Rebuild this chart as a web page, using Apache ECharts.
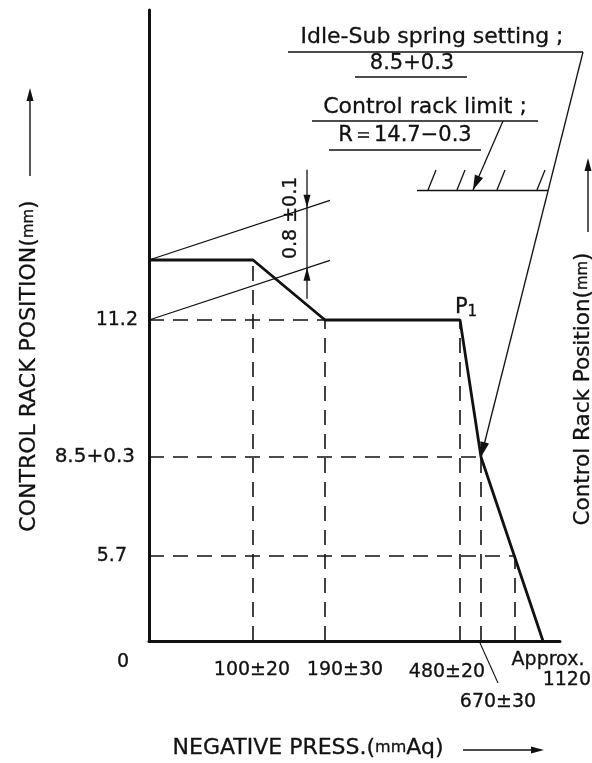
<!DOCTYPE html>
<html>
<head>
<meta charset="utf-8">
<script src="https://cdn.jsdelivr.net/npm/echarts@6/dist/echarts.min.js"></script>
<style>
  html, body { margin: 0; padding: 0; background: #fff; }
  #chart { width: 592px; height: 763px; }
</style>
</head>
<body>
<div id="chart"></div>
<script>
// Governor characteristic: control rack position against negative pressure.

// ---- data ----
const curvePressure = [0, 100, 190, 480, 670, 1120];        // mmAq
const curveRack     = [12.0, 12.0, 11.2, 11.2, 8.8, 0];      // mm
const pressureTicks  = [100, 190, 480, 670, 1120];
const pressureLabels = ['100±20', '190±30', '480±20', '670±30', 'Approx.|1120'];
const rackTicks  = [5.7, 8.8, 11.2];
const rackLabels = ['5.7', '8.5+0.3', '11.2'];
const rackLimit = 14.7;      // R = 14.7-0.3
const idleSetting = 8.8;     // 8.5+0.3
const stepRise = [11.2, 12.0]; // 0.8 ±0.1

// ---- schematic (non-proportional) scales: value -> axis units ----
const pressKnots = [[0, 0], [100, 104], [190, 176], [480, 311], [670, 332], [1120, 394]];
const rackKnots  = [[0, 0], [5.7, 85], [8.8, 184], [11.2, 321], [12.0, 381], [14.7, 451]];

function interp(knots, v) {
  for (let i = 1; i < knots.length; i++) {
    if (v <= knots[i][0]) {
      const [a0, b0] = knots[i - 1], [a1, b1] = knots[i];
      return b0 + (b1 - b0) * (v - a0) / (a1 - a0);
    }
  }
  return knots[knots.length - 1][1];
}
const sx = p => interp(pressKnots, p);
const sy = r => interp(rackKnots, r);

const curve = curvePressure.map((p, i) => [sx(p), sy(curveRack[i])]);

// first point where the drawn curve reaches height uy
function curveXAt(uy) {
  for (let i = 1; i < curve.length; i++) {
    const [x0, y0] = curve[i - 1], [x1, y1] = curve[i];
    if (y0 !== y1 && (y0 - uy) * (y1 - uy) <= 0) return x0 + (x1 - x0) * (uy - y0) / (y1 - y0);
  }
  return 0;
}
// height of the drawn curve at ux
function curveYAt(ux) {
  for (let i = 1; i < curve.length; i++) {
    const [x0, y0] = curve[i - 1], [x1, y1] = curve[i];
    if (ux >= x0 && ux <= x1) return x1 === x0 ? y0 : y0 + (y1 - y0) * (ux - x0) / (x1 - x0);
  }
  return 0;
}

// dashed projection lines
const guides = [];
rackTicks.forEach(r => {
  const uy = sy(r);
  guides.push({ coords: [[0, uy], [curveXAt(uy), uy]] });
});
const dropXs = pressureTicks.filter(p => p < 1000).map(sx).concat([curveXAt(sy(rackTicks[0]))]);
dropXs.forEach(ux => guides.push({ coords: [[ux, 0], [ux, curveYAt(ux)]] }));

// slanted extension lines for the 0.8 dimension
const extSlope = 0.33, extLen = 181;
const extLines = stepRise.map(r => ({ coords: [[0, sy(r)], [extLen, sy(r) + extSlope * extLen]] }));

// hatched stop line for the rack limit
const stopFrom = 268, stopTo = 399;
const hatchAt = [279, 308, 348, 388];
const stopLines = [{ coords: [[stopFrom, sy(rackLimit)], [stopTo, sy(rackLimit)]] }]
  .concat(hatchAt.map(ux => ({ coords: [[ux, sy(rackLimit)], [ux + 8, sy(rackLimit) + 20]] })));

const chart = echarts.init(document.getElementById('chart'), null, { renderer: 'canvas' });
const INK = '#111';
const FONT = '"DejaVu Sans", sans-serif';

chart.setOption({
  animation: false,
  backgroundColor: '#fff',
  grid: { left: 149, top: 10, width: 411, height: 631 },
  xAxis: {
    type: 'value', min: 0, max: 411,
    axisLine: { show: true, lineStyle: { color: INK, width: 3 } },
    axisTick: { show: false }, axisLabel: { show: false }, splitLine: { show: false }
  },
  yAxis: {
    type: 'value', min: 0, max: 631,
    axisLine: { show: true, lineStyle: { color: INK, width: 3 } },
    axisTick: { show: false }, axisLabel: { show: false }, splitLine: { show: false }
  },
  series: [
    {
      type: 'lines', coordinateSystem: 'cartesian2d', silent: true,
      lineStyle: { color: INK, width: 1.6, type: [15, 9], opacity: 1 },
      data: guides
    },
    {
      type: 'lines', coordinateSystem: 'cartesian2d', silent: true,
      lineStyle: { color: INK, width: 1.3, opacity: 1 },
      data: extLines.concat(stopLines)
    },
    {
      type: 'line', silent: true, symbol: 'none',
      lineStyle: { color: INK, width: 2.8 },
      data: curve, z: 5
    }
  ]
});

// ---- annotations ----
const px = (ux, uy) => chart.convertToPixel({ gridIndex: 0 }, [ux, uy]);

function richStyle(s, rich) {
  return { text: s, fill: INK, stroke: INK, lineWidth: 0.3, align: 'center', verticalAlign: 'middle', rich: rich };
}
function text(x, y, s, size, align, extra) {
  return Object.assign({
    type: 'text', x: x, y: y, silent: true,
    style: {
      text: s, fill: INK, stroke: INK, lineWidth: 0.3, fontSize: size, fontFamily: FONT,
      align: align || 'center', verticalAlign: 'middle',
      textAlign: align || 'center', textVerticalAlign: 'middle'
    }
  }, extra || {});
}
function seg(x1, y1, x2, y2, w) {
  return { type: 'line', silent: true, shape: { x1, y1, x2, y2 }, style: { stroke: INK, lineWidth: w || 1.3 } };
}
// filled arrow head with its tip at (tx,ty), pointing away from (fx,fy)
function head(tx, ty, fx, fy, len, half) {
  const dx = tx - fx, dy = ty - fy, d = Math.hypot(dx, dy);
  const ux = dx / d, uy = dy / d;
  const bx = tx - ux * len, by = ty - uy * len;
  return {
    type: 'polygon', silent: true,
    shape: { points: [[tx, ty], [bx - uy * half, by + ux * half], [bx + uy * half, by - ux * half]] },
    style: { fill: INK }
  };
}
const big = size => ({ fontSize: size, fontFamily: FONT, fill: INK, stroke: INK, lineWidth: 0.3 });

const g = [];

// tick labels on the pressure axis
const baseY = px(0, 0)[1];
const tx = pressureTicks.map(p => px(sx(p), 0)[0]);
g.push(text(px(0, 0)[0] - 26, baseY + 21, '0', 19));
g.push(text(tx[0] - 1, baseY + 29, pressureLabels[0], 19));
g.push(text(tx[1] + 20, baseY + 29, pressureLabels[1], 19));
g.push(text(tx[2] - 13, baseY + 31, pressureLabels[2], 19));
g.push(seg(tx[3] - 1, baseY + 2, tx[3] + 17, baseY + 42, 1.1));
g.push(text(tx[3] + 17, baseY + 61, pressureLabels[3], 19));
const approx = pressureLabels[4].split('|');
g.push(text(tx[4] + 5, baseY + 19, approx[0], 19));
g.push(text(591, baseY + 39, approx[1], 19, 'right'));

// tick labels on the rack axis
const labelRight = [127, 135, 138];
rackTicks.forEach((r, i) => {
  g.push(text(labelRight[i], px(0, sy(r))[1], rackLabels[i], i === 1 ? 20 : 19, 'right'));
});

// axis titles
g.push({ type: 'text', x: 29, y: 366, rotation: Math.PI / 2, silent: true,
  style: richStyle('{a|CONTROL RACK POSITION(}{b|mm}{a|)}', { a: big(22), b: big(15) }) });
g.push(seg(30, 176, 30, 100, 1.4));
g.push(head(30, 88, 30, 176, 13, 3.5));

g.push({ type: 'text', x: 583, y: 389, rotation: Math.PI / 2, silent: true,
  style: richStyle('{a|Control Rack Position(}{b|mm}{a|)}', { a: big(21.5), b: big(15) }) });
g.push(seg(588, 232, 588, 170, 1.4));
g.push(head(588, 158, 588, 232, 13, 3.5));

g.push({ type: 'text', x: 308, y: 748, silent: true,
  style: richStyle('{a|NEGATIVE PRESS.(}{b|mm}{a|Aq)}', { a: big(22), b: big(16) }) });
g.push(seg(463, 750, 532, 750, 1.4));
g.push(head(544, 750, 463, 750, 13, 3.5));

// P1 marker at the end of the plateau
const p1 = px(sx(curvePressure[3]), sy(curveRack[3]));
g.push({ type: 'text', x: p1[0] + 6, y: p1[1] - 12, silent: true,
  style: richStyle('{p|P}{s|1}', { p: big(21), s: Object.assign(big(15), { padding: [8, 0, 0, 0] }) }) });

// 0.8 ±0.1 dimension between the extension lines
const dimX = 158;
const dimTop = px(dimX, sy(stepRise[1]) + extSlope * dimX);
const dimBot = px(dimX, sy(stepRise[0]) + extSlope * dimX);
g.push(seg(dimTop[0], dimTop[1] - 38, dimTop[0], dimBot[1] + 31, 1.3));
g.push(head(dimTop[0], dimTop[1], dimTop[0], dimTop[1] - 30, 13, 3.5));
g.push(head(dimBot[0], dimBot[1], dimBot[0], dimBot[1] + 30, 13, 3.5));
g.push(text(dimTop[0] - 16, (dimTop[1] + dimBot[1]) / 2 - 20, '0.8 ±0.1', 19, 'center', { rotation: Math.PI / 2 }));

// idle-sub spring setting note
const idlePt = px(sx(670), sy(idleSetting));
g.push(text(432, 37, 'Idle-Sub spring setting ;', 22));
g.push(seg(288, 52, 583, 52, 1.3));
g.push(seg(583, 52, idlePt[0], idlePt[1], 1.3));
g.push(head(idlePt[0], idlePt[1], 583, 52, 15, 4.5));
g.push(text(412, 64, '8.5+0.3', 21));
g.push(seg(355, 77, 467, 77, 1.3));

// control rack limit note
const stopPt = px(324, sy(rackLimit));
g.push(text(425, 107, 'Control rack limit ;', 22));
g.push(seg(312, 121, 538, 121, 1.3));
g.push(seg(503, 121, stopPt[0], stopPt[1], 1.3));
g.push(head(stopPt[0], stopPt[1], 503, 121, 15, 4.5));
g.push(text(405, 136, 'R＝14.7−0.3', 21));
g.push(seg(329, 150, 481, 150, 1.3));

chart.setOption({ graphic: { elements: g } });
</script>
</body>
</html>
